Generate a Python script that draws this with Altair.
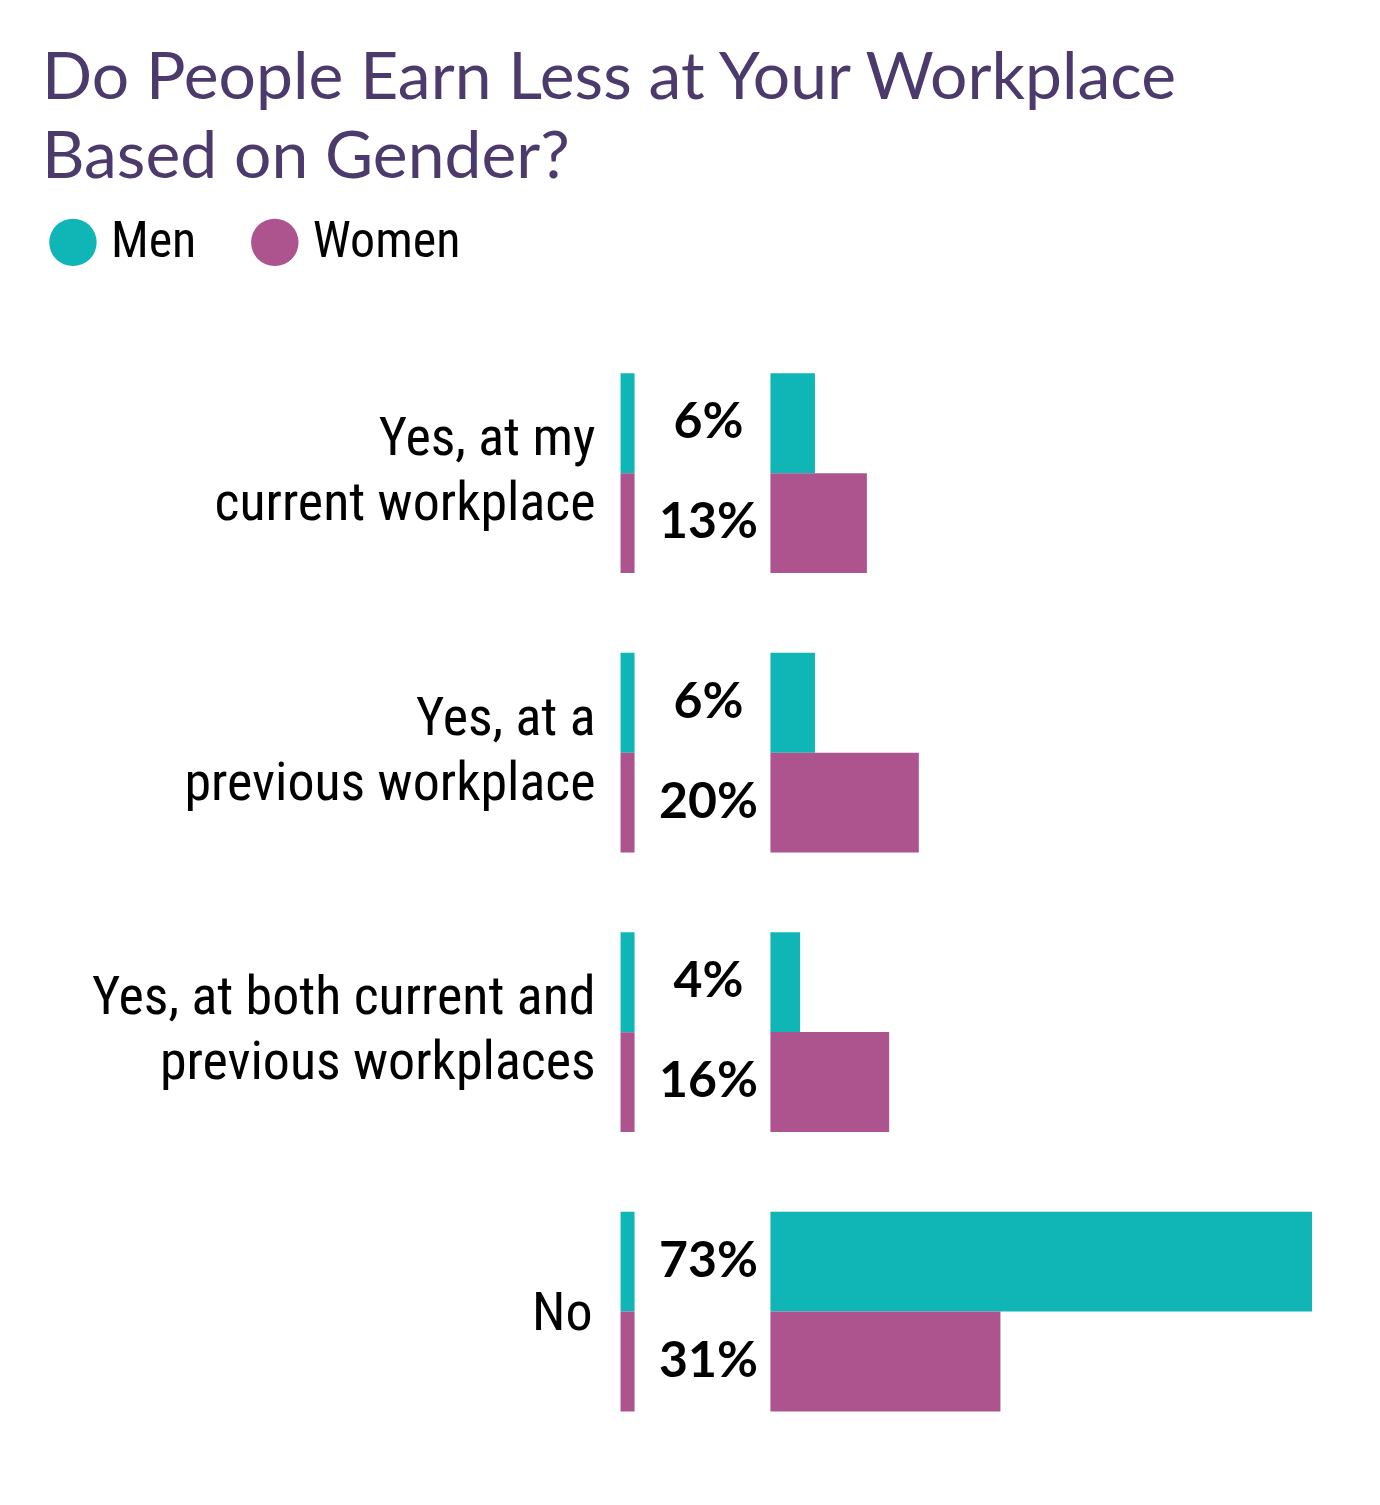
import altair as alt
import pandas as pd

categories = ["Yes, at my\ncurrent workplace",
              "Yes, at a\nprevious workplace",
              "Yes, at both current and\nprevious workplaces",
              "No"]
genders = ["Men", "Women"]
men = [6, 6, 4, 73]
women = [13, 20, 16, 31]

rows = []
for c, m, w in zip(categories, men, women):
    rows.append({"category": c, "gender": "Men", "value": m, "label": f"{m}%"})
    rows.append({"category": c, "gender": "Women", "value": w, "label": f"{w}%"})
df = pd.DataFrame(rows)
cat_df = pd.DataFrame({"category": categories})

TEAL = "#10b5b5"
MAGENTA = "#ad538e"
COND = "Roboto Condensed, Liberation Sans Narrow, DejaVu Sans Condensed, Roboto"
GEO = "Lato, Open Sans, sans-serif"

y_enc = alt.Y("category:N", sort=categories, axis=None,
              scale=alt.Scale(paddingInner=0.285, paddingOuter=0))
yoff = alt.YOffset("gender:N", sort=genders,
                   scale=alt.Scale(paddingInner=0, paddingOuter=0))
color = alt.Color("gender:N", sort=genders,
                  scale=alt.Scale(domain=genders, range=[TEAL, MAGENTA]),
                  legend=alt.Legend(title=None, orient="none", legendX=-723, legendY=-156,
                                    direction="horizontal", symbolType="circle",
                                    symbolSize=2250, symbolStrokeWidth=0, symbolOpacity=1,
                                    labelFont=COND, labelFontSize=50, labelColor="#000000",
                                    labelOffset=13, columnPadding=53, labelLimit=400))

base = alt.Chart(df)

bars = base.mark_bar(size=100).encode(
    x=alt.X("value:Q", scale=alt.Scale(domain=[0, 73], nice=False), axis=None),
    y=y_enc, yOffset=yoff, color=color,
)

strips = base.mark_bar().encode(
    x=alt.value(-150), x2=alt.value(-136),
    y=y_enc, yOffset=yoff, color=color,
)

pct = base.mark_text(font=GEO, fontWeight="bold", fontSize=50, align="center",
                     baseline="middle", color="#000000").encode(
    x=alt.value(-62), y=y_enc, yOffset=yoff, text="label:N",
)

cats_multi = alt.Chart(cat_df).transform_filter(
    "indexof(datum.category, '\\n') >= 0"
).mark_text(font=COND, fontSize=54, align="right", baseline="middle", dy=-34,
            lineBreak="\n", lineHeight=65, color="#000000").encode(
    x=alt.value(-175), y=y_enc, text="category:N",
)

cats_single = alt.Chart(cat_df).transform_filter(
    "indexof(datum.category, '\\n') < 0"
).mark_text(font=COND, fontSize=54, align="right", baseline="middle", dy=2,
            color="#000000").encode(
    x=alt.value(-178), y=y_enc, text="category:N",
)

chart = alt.layer(strips, bars, pct, cats_multi, cats_single).properties(
    width=542, height=1039,
    title=alt.TitleParams(
        ["Do People Earn Less at Your Workplace", "Based on Gender?"],
        anchor="start", frame="group", dx=-729, dy=161, offset=120,
        font=GEO, fontSize=66, fontWeight="normal", color="#4b3a6b",
        lineHeight=79, baseline="bottom",
    ),
    autosize=alt.AutoSizeParams(type="none"),
    padding={"left": 763, "top": 365, "right": 60, "bottom": 80},
    background="#ffffff",
).configure_view(strokeWidth=0)

chart.save("out.html", embed_options={"renderer": "svg", "actions": False})
